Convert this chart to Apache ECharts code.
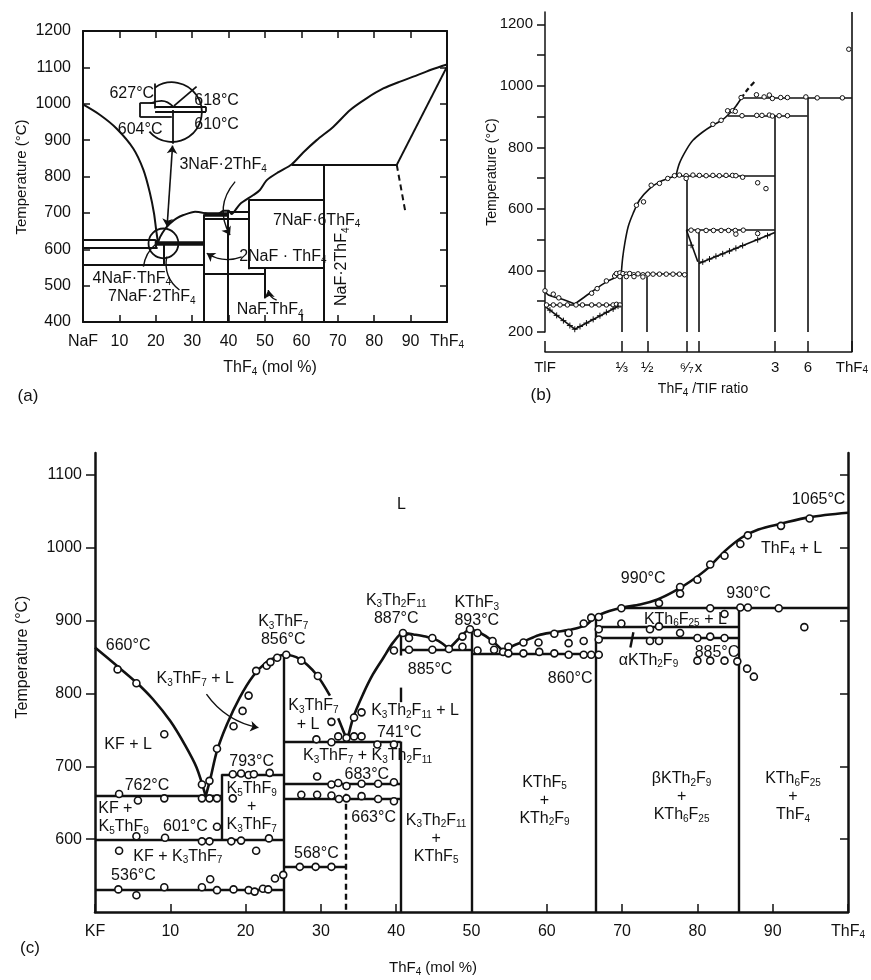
<!DOCTYPE html>
<html><head><meta charset="utf-8">
<script src="https://cdn.jsdelivr.net/npm/echarts@6/dist/echarts.min.js"></script>
<style>html,body{margin:0;padding:0;background:#fff}#c{width:871px;height:980px}</style>
</head><body><div id="c"></div>
<script>
const FONT = '"Liberation Sans", Arial, Helvetica, sans-serif';
const INK = '#111';

// ================= (a) NaF – ThF4 =================
const aLiqNaF = [[0,998],[4.7,969],[9.2,932],[13.8,877],[16.6,818],[18.4,754],[19.5,699],[20.1,653],[20.6,618]];
const aLiqMain = [[20.6,618],[21.2,634],[22.5,655],[23.9,671],[25.7,685],[27.6,694],[30.8,703],[33.5,699],[35.5,694],[37.2,697],[38.6,706],[40,706],[40.8,697],[43.1,724],[46.8,749],[48.6,763],[50.5,790],[53.7,812],[57.3,833],[60.5,866],[64.2,900],[68.8,937],[73.4,983],[77.9,1015],[82.5,1042],[87.1,1061],[91.7,1078],[96,1095],[100,1108]];
const aSegs = [
  [[0,626],[20,626]], [[0,603],[20.5,603]], [[0,557],[33.3,557]],
  [[20.1,626],[20.1,603]], [[22.2,614],[22.2,557]],
  [[33.3,696],[33.3,400]], [[39.9,706],[39.9,400]],
  [[33.3,684],[45.4,684]], [[39.9,703],[45.4,703]],
  [[45.4,735],[45.4,545]], [[45.4,735],[66.2,735]], [[45.4,548],[66.2,548]],
  [[33.3,534],[50,534]], [[50,548],[50,465]],
  [[66.2,832],[66.2,400]], [[57.3,832],[86.2,832]], [[100,1102],[86.2,832]]
];
const aSegsThick = [[[19.7,616],[33.3,616]], [[33.3,696],[39.9,696]]];
const aSegsDashed = [[[86.2,832],[88.5,706]]];
const aInsetSegs = [
  [[19.8,1056],[19.8,987]], [[15.7,1003],[19.8,1003]], [[15.7,1003],[15.7,963]], [[15.7,963],[24.4,963]],
  [[19.8,992],[33.8,992]], [[19.8,978],[33.8,978]], [[33.8,992],[33.8,978]],
  [[24.6,983],[24.6,890]], [[25,994],[31.2,1047]]
];
const aInsetCurve = [[18.4,1001],[21.6,1008],[24.8,992]];
// [cx, cy, radius (mol %), startAngle, endAngle]
const aMagnifiers = [[24.45,977,8.2,-2.17,2.43],[22.1,616,4.1,0,6.2832]];
const aPointers = [
  {c:[[41.8,786],[40.4,639]], k:-0.35, arrow:true},
  {c:[[43.6,579],[34,589]], k:0.25, arrow:true},
  {c:[[53.2,460],[50.9,488]], k:0.3, arrow:true},
  {c:[[16.6,552],[20.2,616]], k:0.2, arrow:false},
  {c:[[26.5,488],[23,580]], k:0.3, arrow:false}
];
const aDoubleArrow = [[[24.6,885],[23.1,662]]];
const aLabels = [
  ['627°C',13.4,1029],['618°C',36.7,1010],['604°C',15.7,928],['610°C',36.7,944],
  ['3NaF·2ThF{s|4}',38.5,832],['7NaF·6ThF{s|4}',64.2,680],['2NaF · ThF{s|4}',54.9,581],
  ['4NaF·ThF{s|4}',13.4,520],['7NaF·2ThF{s|4}',18.9,469],['NaF.ThF{s|4}',51.4,433],
  ['NaF·2ThF{s|4}',71.1,552,90]
];

// ================= (b) TlF – ThF4 =================
const bXLabels = [[0,'TlF'],[25,'⅓'],[33.333,'½'],[46.154,'⁶⁄₇'],[50,'x'],[75,'3'],[85.714,'6'],[100,'ThF{s|4}']];
const bYTicks = [200,300,400,500,600,700,800,900,1000,1100,1200];
const bYLabels = [200,400,600,800,1000,1200];
const bLiqLeft = [[0,334],[1.1,320],[5.9,306],[9.7,291]];
const bLiqLow = [[9.7,291],[14.6,326],[20,363],[24.4,385],[24.9,395]];
const bLiqMid = [[24.9,395],[25.3,440],[26,488],[27.1,542],[28.7,585],[30.8,629],[34.1,666],[37.3,688],[40.6,701],[42.7,708]];
const bLiqHigh = [[42.7,708],[43.8,748],[46,791],[48.2,823],[51.4,850],[54.7,872],[57.9,890],[60.1,910],[62.2,934],[63.9,959]];
const bLiqDashed = [[63.9,959],[66,988],[68.2,1013]];
const bSegs = [
  [[0,288],[24.9,288]], [[0,283],[9.7,209]], [[9.7,209],[24.6,288]],
  [[22.2,388],[46.1,388]],
  [[24.9,395],[24.9,200]], [[33.3,380],[33.3,200]], [[46.1,708],[46.1,200]], [[50.1,531],[50.1,200]],
  [[74.9,902],[74.9,200]], [[85.5,962],[85.5,200]],
  [[41.7,708],[74.9,708]], [[59.5,902],[85.5,902]], [[63.9,962],[100,962]],
  [[46.1,531],[74.9,531]], [[46.1,531],[49.8,428]], [[50.1,423],[74.9,523]],
  [[100,135],[100,1240]]
];
const bCircles = [
  [0,334],[2.7,323],[4.5,311],
  [0.5,288],[2.7,288],[4.9,288],[7.3,288],[10.1,288],[12.2,288],[15.2,288],[17.6,288],[20,288],[22.2,288],[23.3,290],[24.4,288],
  [15.2,326],[17,341],[20,366],[22.7,382],
  [23.3,390],[24.4,392],[25.4,390],[26.5,388],[27.6,390],[28.9,386],[30.3,389],[31.9,386],[33.5,388],[35.2,388],[37.3,388],[39.5,388],[41.7,388],[43.8,388],[45.5,386],
  [24.4,380],[26.5,380],[29,380],[31.9,379],
  [29.8,612],[32.1,623],[34.6,677],[37.3,683],[40,699],[42.2,708],
  [43.8,710],[46,708],[48.2,710],[50.3,709],[52.5,708],[54.7,709],[56.8,708],[59,709],[61.1,709],[62.2,708],[64.4,703],[46,699],
  [69.3,685],[72,666],
  [54.7,875],[57.4,888],[59.5,919],[61.1,919],[62,917],
  [64.2,903],[69,904],[70.7,904],[73.1,905],[74.1,902],[76.3,903],[79,903],
  [63.9,962],[68.9,971],[71.4,964],[73.1,970],[74.1,959],[76.8,962],[79,962],[85,964],[88.7,961],[96.9,961],
  [47.6,531],[49.8,529],[52.5,530],[54.9,530],[57.4,530],[59.8,530],[62,530],[62.2,518],[64.6,531],[69.3,520],
  [99,1119]
];
const bCrosses = [
  [1.6,271],[3.8,254],[6,237],[8.1,221],[9.7,209],
  [11.4,218],[13.5,229],[15.7,241],[17.9,253],[20,264],[22.2,275],[23.8,284],
  [47.6,482],[51.4,428],[53.6,437],[55.7,446],[57.9,454],[60.1,463],[62.2,472],[64.4,481],[69.3,500],[72.5,513]
];

// ================= (c) KF – ThF4 =================
const cYTicks = [600,700,800,900,1000,1100];
const cLiqKF = [[0,863],[2.9,838],[5.5,815],[7.7,792],[10,762],[11.9,730],[13.5,698],[14.7,659]];
const cLiqK3ThF7 = [[14.7,659],[15.3,682],[16.2,721],[17.5,757],[19.2,794],[21,824],[22.8,843],[24.1,850],[25.2,853],[27.2,847],[29.4,826],[31.2,797]];
const cLiqK3ThF7b = [[32.3,766],[33.5,735]];
const cLiqK3Th2F11 = [[33.5,735],[34.3,767],[35.6,799],[36.9,826],[38.3,849],[39.6,870],[40.9,883],[42.3,881],[43.9,878],[45.6,872],[47,861]];
const cLiqKThF5 = [[47,861],[48.4,876],[49.7,888],[51,884],[52.8,872],[54.2,858]];
const cLiqHigh = [[54.2,858],[55,863],[57.1,872],[58.9,880],[61,884],[63.4,888],[65.2,894],[66.5,905],[68.3,913],[70.1,918],[72.4,922],[74.7,929],[76.9,940],[79.1,954],[81.4,972],[83.6,995],[85.9,1014],[88.1,1025],[91.1,1033],[94.9,1042],[100,1048]];
const cSegs = [
  [[0,659],[16.8,659]], [[16.8,689],[16.8,599]], [[16.8,689],[25,689]],
  [[0,599],[25,599]], [[0,530],[25,530]], [[25,853],[25,500]],
  [[25,734],[40.6,734]], [[25,676],[40.6,676]], [[25,655],[40.6,655]], [[25,562],[33.3,562]],
  [[40.6,884],[40.6,852]], [[40.6,808],[40.6,788]], [[40.6,734],[40.6,500]],
  [[40.6,860],[50,860]], [[50,888],[50,500]], [[50,855],[66.5,855]],
  [[66.5,905],[66.5,500]], [[66.5,877],[85.5,877]], [[66.5,891],[85.5,891]],
  [[70.1,918],[100,918]], [[85.5,918],[85.5,500]],
  [[71.5,884],[71.1,863]]
];
const cSegsDashed = [[[33.3,676],[33.3,500]]];
const cArrows = [{c:[[14.8,799],[21.7,753]], k:-0.2}];
const cCircles = [
  [3.0,833],[5.5,814],[9.2,744],[14.2,675],[15.2,680],[16.2,724],[18.4,755],[19.6,776],[20.4,797],[21.4,831],[22.8,838],[23.3,843],[24.2,849],[25.4,853],[27.4,845],[29.6,824],[31.4,761],
  [29.4,737],[31.4,733],[32.3,741],[33.4,739],[34.4,767],[35.4,774],[34.4,741],[35.4,741],[37.5,730],[39.7,730],
  [39.7,859],[40.9,883],[41.7,876],[41.7,860],[44.8,860],[44.8,876],
  [3.2,662],[5.7,653],[9.2,656],[14.2,656],[15.2,656],[16.2,656],[18.3,656],
  [18.3,689],[19.4,690],[20.4,688],[21.1,689],[23.2,691],[16.2,617],
  [5.5,604],[9.3,602],[14.2,597],[15.2,597],[18.1,597],[19.4,598],[23.1,601],
  [3.2,584],[21.4,584],
  [3.1,531],[5.5,523],[9.2,534],[14.2,534],[15.3,545],[16.2,530],[18.4,531],[20.4,530],[21.2,528],[22.3,532],[23,531],[23.9,546],[25,551],
  [29.5,686],[31.4,675],[32.3,677],[33.4,673],[35.4,676],[37.6,676],[39.7,678],
  [27.4,661],[29.5,661],[31.4,660],[32.4,655],[33.4,656],[35.4,659],[37.6,655],[39.7,652],
  [27.2,562],[29.3,562],[31.4,562],
  [47,861],[48.8,878],[48.8,864],[49.8,888],[50.8,883],[50.8,859],[52.8,872],[53,860],[54.2,857],[54.9,864],[54.9,855],[56.9,870],[56.9,855],[58.9,870],[59,857],[61,882],[61,855],[62.9,883],[62.9,869],[62.9,853],[64.9,896],[64.9,872],[64.9,853],[65.9,904],[65.9,853],[66.9,905],[66.9,888],[66.9,874],[66.9,853],[69.9,917],[69.9,896],[73.7,888],[74.9,924],[74.9,892],[73.7,872],[74.9,872],[77.7,946],[77.7,937],[77.7,883],[80,956],[80,876],[80,845],[81.7,977],[81.7,917],[81.7,878],[81.7,845],[83.6,989],[83.6,909],[83.6,876],[83.6,845],[85.3,844],[85.7,1005],[85.7,918],[86.7,918],[86.7,1017],[86.6,834],[87.5,823],[90.8,917],[91.1,1030],[94.2,891],[94.9,1040]
];
const cLabels = [
  ['L',40.7,1059],['660°C',4.4,866],['K{s|3}ThF{s|7} + L',13.3,820],
  ['K{s|3}ThF{s|7}\n856°C',25,886],['K{s|3}Th{s|2}F{s|11}\n887°C',40,915],
  ['KF + L',4.4,730],['K{s|3}ThF{s|7}',29,783],['+ L',28.3,757],
  ['K{s|3}Th{s|2}F{s|11} + L',42.5,776],['741°C',40.4,746],
  ['K{s|3}ThF{s|7} + K{s|3}Th{s|2}F{s|11}',36.2,714],['793°C',20.8,707],['683°C',36.1,689],
  ['762°C',6.9,673],['KF +',2.7,642],['K{s|5}ThF{s|9}',3.8,617],['601°C',12,617],
  ['K{s|5}ThF{s|9}\n+\nK{s|3}ThF{s|7}',20.8,644],['663°C',37,629],
  ['K{s|3}Th{s|2}F{s|11}\n+\nKThF{s|5}',45.3,601],['KF + K{s|3}ThF{s|7}',11,576],
  ['568°C',29.4,580],['536°C',5.1,550],['KThF{s|3}\n893°C',50.7,912],['885°C',44.5,833],
  ['1065°C',96.1,1066],['ThF{s|4} + L',92.5,999],['990°C',72.8,958],['930°C',86.8,937],
  ['KTh{s|6}F{s|25} + L',78.4,902],['αKTh{s|2}F{s|9}',73.5,845],['885°C',82.6,856],['860°C',63.1,820],
  ['KThF{s|5}\n+\nKTh{s|2}F{s|9}',59.7,653],['βKTh{s|2}F{s|9}\n+\nKTh{s|6}F{s|25}',77.9,658],
  ['KTh{s|6}F{s|25}\n+\nThF{s|4}',92.7,658]
];

// ================= helpers =================
const SUB = {fontSize: 10, verticalAlign: 'bottom', fontFamily: FONT, color: INK};
const GA = {x:0, y:0}, GB = {x:2, y:2}, GC = {x:3, y:3};
function curve(g, data, w, extra) {
  return Object.assign({type:'line', xAxisIndex:g.x, yAxisIndex:g.y, data, smooth:0.3, showSymbol:false, symbol:'none',
    lineStyle:{color:INK, width:w}, silent:true, z:3, clip:false, animation:false}, extra || {});
}
function segs(g, list, w, extra) {
  return Object.assign({type:'lines', coordinateSystem:'cartesian2d', xAxisIndex:g.x, yAxisIndex:g.y,
    data:list.map(c => ({coords:c})), lineStyle:{color:INK, width:w, opacity:1, curveness:0},
    silent:true, z:3, clip:false, animation:false}, extra || {});
}
function pointers(g, list, w, sym) {
  return {type:'lines', coordinateSystem:'cartesian2d', xAxisIndex:g.x, yAxisIndex:g.y, symbol:sym, symbolSize:8,
    data:list.map(p => ({coords:p.c, lineStyle:{curveness:p.k}})), lineStyle:{color:INK, width:w, opacity:1},
    itemStyle:{color:INK, opacity:1}, silent:true, z:3, clip:false, animation:false};
}
function labels(g, list, fontSize) {
  return {type:'scatter', xAxisIndex:g.x, yAxisIndex:g.y, symbolSize:1, itemStyle:{color:'rgba(0,0,0,0)', opacity:1},
    silent:true, z:8, animation:false, clip:false,
    data:list.map(([t,x,y,rot]) => rot ? {value:[x,y], name:t, label:{rotate:rot}} : {value:[x,y], name:t}),
    label:{show:true, position:'inside', formatter:p => p.name, color:INK, opacity:1, textBorderWidth:0,
      fontFamily:FONT, fontSize, lineHeight:18, rich:{s:SUB}}};
}
function marks(g, data, size, bw) {
  return {type:'scatter', xAxisIndex:g.x, yAxisIndex:g.y, data, symbol:'circle', symbolSize:size,
    itemStyle:{color:'#fff', borderColor:INK, borderWidth:bw, opacity:1}, silent:true, z:5, animation:false};
}
const axLine = w => ({onZero:false, lineStyle:{color:INK, width:w}});
const lbl = (size, extra) => Object.assign({color:INK, fontFamily:FONT, fontSize:size, rich:{s:SUB},
  showMinLabel:true, showMaxLabel:true, formatter:v => String(v)}, extra);

const option = {
  animation:false,
  backgroundColor:'#fff',
  textStyle:{fontFamily:FONT, color:INK},
  grid:[
    {left:83, top:31, width:364, height:291},
    {left:545, top:12, width:308, height:320},
    {left:95, top:453, width:753, height:459}
  ],
  xAxis:[
    {gridIndex:0, type:'value', min:0, max:100, interval:10, position:'bottom', axisLine:axLine(2), splitLine:{show:false},
      axisTick:{inside:true, length:7, lineStyle:{color:INK, width:1.5}},
      axisLabel:lbl(16, {margin:12, formatter:v => v === 0 ? 'NaF' : v === 100 ? 'ThF{s|4}' : String(v)})},
    {gridIndex:0, type:'value', min:0, max:100, interval:10, position:'top', axisLine:axLine(2), splitLine:{show:false},
      axisTick:{inside:true, length:7, lineStyle:{color:INK, width:1.5}}, axisLabel:{show:false}},
    {gridIndex:1, type:'value', min:0, max:100, position:'bottom', offset:20, axisLine:axLine(1.5), splitLine:{show:false},
      axisTick:{inside:true, length:11, customValues:bXLabels.map(d => d[0]), lineStyle:{color:INK, width:1.5}},
      axisLabel:lbl(15, {margin:8, customValues:bXLabels.map(d => d[0]),
        formatter:v => { let best = bXLabels[0]; bXLabels.forEach(d => { if (Math.abs(d[0]-v) < Math.abs(best[0]-v)) best = d; }); return best[1]; }})},
    {gridIndex:2, type:'value', min:0, max:100, interval:10, position:'bottom', axisLine:axLine(2.5), splitLine:{show:false},
      axisTick:{inside:true, length:8, lineStyle:{color:INK, width:1.5}},
      axisLabel:lbl(16, {margin:12, formatter:v => v === 0 ? 'KF' : v === 100 ? 'ThF{s|4}' : String(v)})}
  ],
  yAxis:[
    {gridIndex:0, type:'value', min:400, max:1200, interval:100, axisLine:axLine(2), splitLine:{show:false},
      axisTick:{inside:true, length:7, lineStyle:{color:INK, width:1.5}}, axisLabel:lbl(16, {margin:12})},
    {gridIndex:0, type:'value', min:400, max:1200, interval:100, position:'right', axisLine:axLine(2), splitLine:{show:false},
      axisTick:{inside:true, length:7, lineStyle:{color:INK, width:1.5}}, axisLabel:{show:false}},
    {gridIndex:1, type:'value', min:200, max:1240, axisLine:axLine(1.5), splitLine:{show:false},
      axisTick:{inside:false, length:8, customValues:bYTicks, lineStyle:{color:INK, width:1.5}},
      axisLabel:lbl(15, {margin:12, customValues:bYLabels})},
    {gridIndex:2, type:'value', min:500, max:1130, axisLine:axLine(2.5), splitLine:{show:false},
      axisTick:{inside:false, length:9, customValues:cYTicks, lineStyle:{color:INK, width:1.5}},
      axisLabel:lbl(16, {margin:13, customValues:cYTicks})},
    {gridIndex:2, type:'value', min:500, max:1130, position:'right', axisLine:axLine(2.5), splitLine:{show:false},
      axisTick:{inside:true, length:8, customValues:cYTicks, lineStyle:{color:INK, width:1.5}}, axisLabel:{show:false}}
  ],
  graphic:[],
  series:[
    // (a)
    curve(GA, aLiqNaF, 2), curve(GA, aLiqMain, 2, {smooth:0.25}),
    segs(GA, aSegs, 2), segs(GA, aSegsThick, 4.5), segs(GA, aSegsDashed, 2, {lineStyle:{color:INK, width:2, opacity:1, type:[6,4]}}),
    segs(GA, aInsetSegs, 1.8), curve(GA, aInsetCurve, 1.6, {smooth:0.5}),
    {type:'custom', xAxisIndex:0, yAxisIndex:0, silent:true, z:4, clip:false, animation:false, data:aMagnifiers,
      renderItem:(params, api) => {
        const c = api.coord([api.value(0), api.value(1)]);
        const r = api.size([api.value(2), 0])[0];
        return {type:'arc', shape:{cx:c[0], cy:c[1], r, startAngle:api.value(3), endAngle:api.value(4), clockwise:true},
          style:{stroke:INK, fill:'none', lineWidth:1.8}};
      }},
    pointers(GA, aPointers.filter(p => p.arrow), 1.4, ['none','arrow']),
    pointers(GA, aPointers.filter(p => !p.arrow), 1.4, ['none','none']),
    pointers(GA, aDoubleArrow.map(c => ({c, k:0})), 1.6, ['arrow','arrow']),
    labels(GA, aLabels, 16),
    // (b)
    curve(GB, bLiqLeft, 1.6), curve(GB, bLiqLow, 1.6), curve(GB, bLiqMid, 1.6), curve(GB, bLiqHigh, 1.6),
    curve(GB, bLiqDashed, 2.2, {lineStyle:{color:INK, width:2.2, type:[5,3]}}),
    segs(GB, bSegs, 1.6),
    marks(GB, bCircles, 4.5, 1),
    {type:'scatter', xAxisIndex:2, yAxisIndex:2, data:bCrosses, symbol:'path://M0,5L10,5M5,0L5,10', symbolSize:6,
      itemStyle:{color:'none', borderColor:INK, borderWidth:1, opacity:1}, silent:true, z:5, animation:false},
    // (c)
    curve(GC, cLiqKF, 2.6), curve(GC, cLiqK3ThF7, 2.6), curve(GC, cLiqK3ThF7b, 2.6), curve(GC, cLiqK3Th2F11, 2.6),
    curve(GC, cLiqKThF5, 2.6, {smooth:0.15}), curve(GC, cLiqHigh, 2.6),
    segs(GC, cSegs, 2.4),
    segs(GC, cSegsDashed, 2.4, {lineStyle:{color:INK, width:2.4, opacity:1, type:[6,4]}}),
    pointers(GC, cArrows, 1.4, ['none','arrow']),
    marks(GC, cCircles, 7, 1.6),
    labels(GC, cLabels, 16)
  ]
};

const RICH = {s:{fontSize:10, verticalAlign:'bottom', fontFamily:FONT, fill:INK}};
function gtext(x, y, text, size, rot) {
  return {type:'text', x, y, rotation:rot || 0, silent:true, z:10,
    style:{text, fontSize:size, fontFamily:FONT, fill:INK, align:'center', verticalAlign:'middle',
      textAlign:'center', textVerticalAlign:'middle', lineHeight:18, rich:RICH}};
}
option.graphic = [
  gtext(22, 177, 'Temperature (°C)', 15, Math.PI/2),
  gtext(270, 368, 'ThF{s|4} (mol %)', 16),
  gtext(28, 396, '(a)', 17),
  gtext(492, 172, 'Temperature (°C)', 14, Math.PI/2),
  gtext(703, 389, 'ThF{s|4} /TIF ratio', 14),
  gtext(541, 395, '(b)', 17),
  gtext(23, 657, 'Temperature (°C)', 16, Math.PI/2),
  gtext(433, 968, 'ThF{s|4} (mol %)', 15),
  gtext(30, 948, '(c)', 17)
];

const chart = echarts.init(document.getElementById('c'), null, {renderer:'canvas'});
chart.setOption(option);
</script></body></html>
